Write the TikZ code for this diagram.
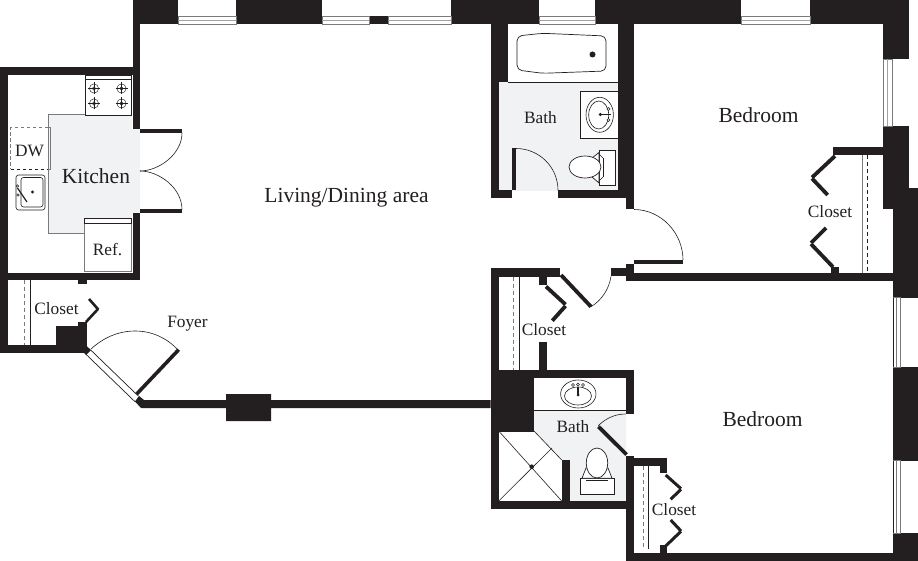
\documentclass[tikz,border=0pt]{standalone}
\usepackage{fontspec}
\setmainfont{Liberation Serif}
\definecolor{wall}{HTML}{231F20}
\definecolor{floorgray}{HTML}{F1F2F4}
\definecolor{edge}{HTML}{7A7A7C}
\tikzset{
  x=1pt,y=-1pt,
  wallfill/.style={fill=wall,draw=none},
  floorfill/.style={fill=floorgray,draw=none},
  fixture/.style={draw=wall,line width=0.7pt,fill=white},
  thinline/.style={draw=wall,line width=0.6pt},
  leaf/.style={draw=wall,line width=3.8pt},
  swing/.style={draw=wall,line width=0.6pt},
  rod/.style={draw=edge,line width=0.8pt},
  hanger/.style={draw=wall,line width=0.8pt,dash pattern=on 4pt off 3pt},
  winline/.style={draw=edge,line width=0.7pt},
  label/.style={text=wall,inner sep=0pt,font=\fontsize{17.3}{20}\selectfont},
  biglabel/.style={text=wall,inner sep=0pt,font=\fontsize{21.5}{24}\selectfont}
}
\begin{document}
\begin{tikzpicture}
\useasboundingbox (0,0) rectangle (918,561);
\fill[white] (0,0) rectangle (918,561);

% floors
\fill[floorfill] (48,114.5) -- (132,114.5) -- (132,129) -- (140,129) -- (140,213) -- (132,213) -- (132,218) -- (84,218) -- (84,233) -- (48,233) -- cycle;
\fill[floorfill] (498.7,82) rectangle (618,190.5);
\fill[floorfill] (512.3,190) rectangle (558,191.5);
\fill[floorfill] (534,410.7) -- (626,410.7) -- (626,501) -- (570,501) -- (570,460) -- (561.7,460) -- (534,431) -- cycle;
\draw[edge,line width=0.6pt] (85,114.5) -- (48,114.5) -- (48,233) -- (84,233);

% top wall with windows
\fill[wallfill] (132.7,0) rectangle (178,24);
\fill[wallfill] (236,0) rectangle (322,24);
\fill[wallfill] (369,16) rectangle (388,24);
\fill[wallfill] (451,0) rectangle (539,24);
\fill[wallfill] (595,0) rectangle (741,24);
\fill[wallfill] (810,0) rectangle (909,24);
% kitchen walls
\fill[wallfill] (132.7,0) rectangle (140,129);
\fill[wallfill] (0,67.5) rectangle (140,75);
\fill[wallfill] (0,67.5) rectangle (8,353);
\fill[wallfill] (132.7,213) rectangle (140,280);
\fill[wallfill] (0,272.7) rectangle (140,280);
\fill[wallfill] (78,280) rectangle (86.7,284);
% left closet
\fill[wallfill] (0,345) rectangle (86.5,353);
\fill[wallfill] (56,326) rectangle (86.5,353);
\fill[wallfill] (78,322) rectangle (86.5,326);
\fill[wallfill] (82,351) -- (86.5,346) -- (91,350) -- (86,355) -- cycle;
% foyer wall
\fill[wallfill] (135,401.5) -- (139,396) -- (144,400) -- (226,400) -- (226,394) -- (271,394) -- (271,400) -- (490.7,400) -- (490.7,408) -- (271,408) -- (271,421) -- (226,421) -- (226,408) -- (141,408) -- cycle;
% upper bath walls
\fill[wallfill] (490.7,24) rectangle (508,82);
\fill[wallfill] (490.7,82) rectangle (498.7,198);
\fill[wallfill] (490.7,190.3) rectangle (512.3,198);
\fill[wallfill] (557.7,190.3) rectangle (626,198);
\fill[wallfill] (618,24) rectangle (634,198);
\fill[wallfill] (626,198) rectangle (634,209.5);
% right side walls
\fill[wallfill] (883,0) rectangle (908.5,59);
\fill[wallfill] (883,126) rectangle (908.5,209);
\fill[wallfill] (892.7,188) rectangle (918,297.7);
\fill[wallfill] (883,188) rectangle (892.7,209);
\fill[wallfill] (892.7,367) rectangle (918,460.7);
\fill[wallfill] (892.7,533) rectangle (918,561);
% upper closet / divider
\fill[wallfill] (832.7,146.7) rectangle (883,155);
\fill[wallfill] (625.7,272.7) rectangle (892.7,281);
\fill[wallfill] (625.7,264) rectangle (634,281);
\fill[wallfill] (611,268.3) rectangle (625.7,276.3);
\fill[wallfill] (831,267) rectangle (839,273);
% middle closet
\fill[wallfill] (490.7,268.3) rectangle (560,276.7);
\fill[wallfill] (490.7,268.3) rectangle (498.7,509);
\fill[wallfill] (539,276.7) rectangle (547,285);
\fill[wallfill] (539,342) rectangle (547,370);
\fill[wallfill] (490.7,370) rectangle (633.7,378);
\fill[wallfill] (490.7,378) rectangle (534,431);
\fill[wallfill] (625.7,370) rectangle (633.7,414);
% lower bath, lower closet
\fill[wallfill] (490.7,501) rectangle (634,509);
\fill[wallfill] (561.7,460) rectangle (570,501);
\fill[wallfill] (626,456) rectangle (634,561);
\fill[wallfill] (626,458.3) rectangle (667,466);
\fill[wallfill] (660,466) rectangle (667,473.3);
\fill[wallfill] (660,545) rectangle (667,552.7);
\fill[wallfill] (626,552.7) rectangle (918,561);

% top windows
\foreach \a/\b in {178/236,322/369,388/451,539/595,741/810}{
  \draw[winline] (\a,16.5) rectangle (\b,24);
  \draw[edge!70,line width=0.5pt] (\a,20.2) -- (\b,20.2);
}
% right windows
\draw[winline] (883.3,59) rectangle (892,126);
\draw[edge!70,line width=0.9pt] (887.6,59) -- (887.6,126);
\foreach \a/\b in {297.7/367,460.7/533}{
  \draw[wall,line width=0.7pt] (893,\a) -- (893,\b);
  \draw[edge,line width=1.1pt] (896.7,\a) -- (896.7,\b);
  \draw[edge,line width=0.7pt] (900.5,\a) -- (900.5,\b);
  \draw[edge,line width=0.5pt] (893,\a) -- (900.5,\a);
  \draw[edge,line width=0.5pt] (893,\b) -- (900.5,\b);
}

% kitchen doors
\fill[wallfill] (140,129) rectangle (182,133);
\fill[wallfill] (140,209.5) rectangle (182,213);
\draw[swing] (182,133) .. controls (182,154) and (159,171) .. (140,171);
\draw[swing] (182,209.5) .. controls (182,188) and (159,171) .. (140,171);

% stove
\draw[fixture] (85,75) rectangle (131,115);
\draw[thinline] (85,79) -- (131,79);
\foreach \cx/\cy in {94/88.5,121.5/88.5,94/103.5,121.5/103.5}{
  \draw[draw=wall,line width=0.45pt] (\cx,\cy) circle[radius=4.6];
  \draw[draw=wall,line width=0.45pt] (\cx,\cy) circle[radius=1.8];
  \draw[draw=wall,line width=0.45pt] (\cx-6,\cy) -- (\cx+6,\cy) (\cx,\cy-6) -- (\cx,\cy+6);
}
% dishwasher
\draw[edge,line width=0.8pt,dash pattern=on 3.5pt off 2.5pt] (48,127.5) -- (10.7,127.5) -- (10.7,169);
\draw[wall,line width=0.8pt,dash pattern=on 3.5pt off 2.5pt] (10.7,169) -- (48,169);
\draw[edge,line width=0.6pt,fill=floorgray] (48,127.5) rectangle (50.5,169);
% kitchen sink
\draw[draw=wall,line width=0.6pt,rounded corners=2.5pt] (16,175) rectangle (45,210);
\draw[draw=wall,line width=0.6pt,rounded corners=2.5pt] (21,177.5) rectangle (43,207);
\fill[wall] (32.5,192) circle[radius=1.6];
\draw[draw=wall,line width=1.2pt] (17.5,188) -- (27,202);
\draw[draw=wall,line width=0.6pt] (17.5,186) circle[radius=1.2] (18,195) circle[radius=1.2];
% refrigerator
\draw[draw=edge,line width=1.0pt,fill=white] (84,223) rectangle (131,272);
\draw[thinline,fill=white] (84,218.5) rectangle (131,223);

% upper bath fixtures
\draw[thinline] (508,82) -- (618,82);
\draw[fixture,rounded corners=5pt] (517,36) -- (542.7,33.3) -- (606,36) -- (606,71) -- (542.7,73.3) -- (517,70) -- cycle;
\fill[wall] (592.5,54.5) circle[radius=3];
\draw[fixture] (618,91.7) -- (580.5,91.7) -- (580.5,138) -- (618,138);
\fill[white] (580.8,92) rectangle (618,137.7);
\draw[thinline] (599.7,114.8) ellipse[x radius=13.7,y radius=17.5];
\draw[thinline] (598.7,115) ellipse[x radius=10,y radius=14];
\draw[draw=wall,line width=1.3pt] (600,114.5) -- (611,114.5);
\fill[wall] (600.3,114.5) circle[radius=1.7];
\draw[draw=wall,line width=0.5pt,fill=white] (608.5,109) circle[radius=1.5] (608.5,120) circle[radius=1.5];
% toilet 1
\draw[fixture] (599,150.7) rectangle (615.7,185);
\draw[fixture] (597,163) -- (592,158) -- (599,152.5) -- (599,183) -- (592,177) -- (597,171) -- cycle;
\draw[thinline] (603,158) -- (603,177);
\draw[thinline] (599,154) -- (603,158) (599,181) -- (603,177);
\draw[fixture] (585,167) ellipse[x radius=16,y radius=11];
% bath door
\fill[wallfill] (512.3,148.5) rectangle (516,190.3);
\draw[swing] (516,148.5) .. controls (539,148.5) and (558,167) .. (558,190.3);
% corridor door
\fill[wallfill] (634,260) rectangle (683,264);
\draw[swing] (634,209.5) .. controls (661,209.5) and (683,233) .. (683,260);

% upper closet
\draw[rod] (862,155) -- (862,272.7);
\draw[hanger] (867.3,155) -- (867.3,272.7);
\draw[leaf] (835,156) -- (812,177.5);
\draw[leaf] (812,178.5) -- (827.7,195);
\draw[leaf] (826,228) -- (811,243);
\draw[leaf] (811,244) -- (833,267);

% left closet
\draw[thinline] (30,280) -- (30,345);
\draw[hanger,draw=edge] (24.7,280) -- (24.7,345);
\draw[draw=wall,line width=2.6pt] (86,322) -- (98,309);
\draw[draw=wall,line width=2.6pt] (98.3,309.5) -- (89,299);

% foyer
\draw[draw=wall,line width=0.7pt] (86,354.3) -- (135,401.7);
\draw[draw=wall,line width=0.7pt] (90.7,350) -- (138.3,396);
\draw[leaf,line width=3.6pt] (136.7,394) -- (178.7,349.7);
\draw[swing] (178,350) .. controls (167,338) and (152,331) .. (135,331) .. controls (118,331) and (103,338) .. (91,349);

% middle closet
\draw[thinline] (519.3,276.7) -- (519.3,370);
\draw[hanger,draw=edge] (513.5,276.7) -- (513.5,370);
\draw[leaf] (546,286.5) -- (565.5,304.5);
\draw[leaf] (565.5,306) -- (552.3,320.7);
\draw[leaf] (561,275) -- (591,306.7);
\draw[swing] (591,306.7) .. controls (602,300) and (609,289) .. (611,276.5);

% lower bath
\draw[thinline] (534,410.7) -- (626,410.7);
\draw[thinline] (578.3,394) ellipse[x radius=17.7,y radius=14];
\draw[thinline] (578,396) ellipse[x radius=13.5,y radius=9];
\draw[draw=wall,line width=1.3pt] (578,387) -- (578,395);
\fill[wall] (578,395) circle[radius=1.5];
\draw[draw=wall,line width=0.5pt,fill=white] (573,385) circle[radius=1.5] (583,385) circle[radius=1.5] (578,384.5) circle[radius=1.5];
% shower
\draw[thinline] (498.7,431) -- (534,431);
\draw[thinline] (534,431) -- (561.7,460);
\draw[thinline] (498.7,431) -- (561.7,501);
\draw[thinline] (498.7,501) -- (552,448);
\fill[wall] (531.7,466.7) circle[radius=2.3];
% toilet 2
\draw[fixture] (580,478.3) rectangle (614,494.3);
\draw[thinline] (586,480.5) -- (608,480.5);
\draw[fixture] (586,468) -- (582,478.3) -- (612,478.3) -- (608,468) -- cycle;
\draw[fixture] (597,463) ellipse[x radius=10.7,y radius=15];
% lower bath door
\draw[leaf] (598.5,426.7) -- (626.5,454.5);
\draw[swing] (625.7,414) .. controls (613,414) and (604,420) .. (598,426);

% lower closet
\draw[thinline] (648.3,466) -- (648.3,549);
\draw[hanger,draw=edge] (643.3,466) -- (643.3,549);
\draw[draw=wall,line width=3pt] (665.7,475) -- (681,488.7);
\draw[draw=wall,line width=3pt] (681,489.3) -- (670.7,499.3);
\draw[draw=wall,line width=3pt] (670.7,520) -- (681,531);
\draw[draw=wall,line width=3pt] (681,531.3) -- (665.7,546);

% labels
\node[biglabel] (kitchen) at (96,176) {Kitchen};
\node[biglabel] (living) at (346.5,198) {Living/Dining area};
\node[biglabel] (bed1) at (758.5,115) {Bedroom};
\node[biglabel] (bed2) at (762.5,419.5) {Bedroom};
\node[label] (dw) at (29.5,150.5) {DW};
\node[label] (ref) at (107.5,250) {Ref.};
\node[label] (bath1) at (540.5,118) {Bath};
\node[label] (bath2) at (573,427) {Bath};
\node[label] (closet1) at (56.5,309) {Closet};
\node[label] (closet2) at (830,212) {Closet};
\node[label] (closet3) at (544,330) {Closet};
\node[label] (closet4) at (674,510) {Closet};
\node[label] (foyer) at (187.5,323.5) {Foyer};
\end{tikzpicture}
\end{document}
